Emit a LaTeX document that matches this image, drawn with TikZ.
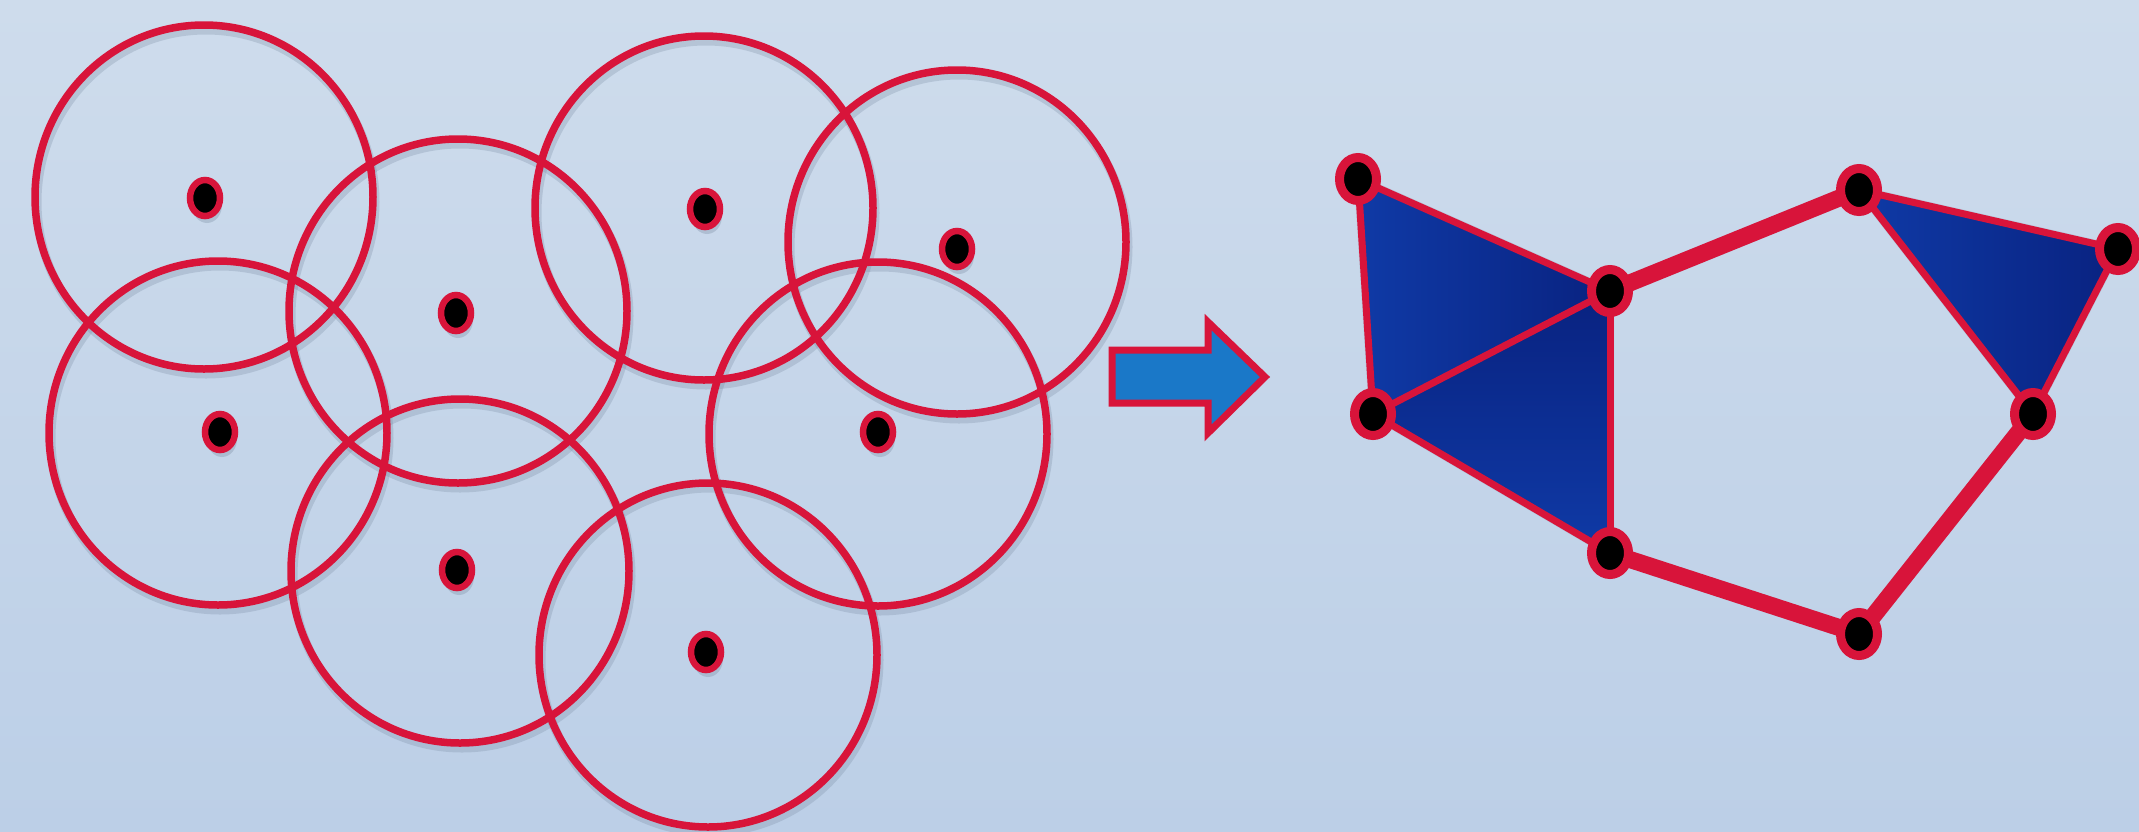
\documentclass[tikz,border=0pt]{standalone}
\usetikzlibrary{shapes.geometric}
\definecolor{bgtop}{HTML}{CEDCEC}
\definecolor{bgbot}{HTML}{BCCFE7}
\definecolor{rd}{HTML}{D8143A}
\definecolor{arrowblue}{HTML}{1A78C8}
\definecolor{navylight}{HTML}{0F3AA6}
\definecolor{navydark}{HTML}{092280}
\definecolor{shd}{HTML}{7E8FA6}
\tikzset{
  ring/.style={draw=rd, line width=7.5pt},
  ringshadow/.style={draw=shd, line width=9pt, opacity=0.3},
  dot/.style={ellipse, fill=black, draw=rd, line width=6.5pt, minimum width=30pt, minimum height=36pt, inner sep=0pt},
  gnode/.style={ellipse, fill=black, draw=rd, line width=9pt, minimum width=37pt, minimum height=43pt, inner sep=0pt},
  thinedge/.style={draw=rd, line width=7pt, line cap=round, line join=round},
  thickedge/.style={draw=rd, line width=17pt, line cap=round},
  bigarrow/.style={fill=arrowblue, draw=rd, line width=7pt, line join=miter}
}
\begin{document}
\begin{tikzpicture}[x=1pt, y=-1pt]
\useasboundingbox (0,0) rectangle (2139,831);
\shade[top color=bgtop, bottom color=bgbot] (0,0) rectangle (2139,831);

% ---- left: sensing circles ----
\foreach \cx/\cy in {204/197, 458/311, 704/208, 957/242, 218/433, 878/434, 460/571, 708/655}{
  \draw[ringshadow] (\cx+2,\cy+5) ellipse [x radius=169pt, y radius=172pt];
}
\foreach \cx/\cy in {204/197, 458/311, 704/208, 957/242, 218/433, 878/434, 460/571, 708/655}{
  \draw[ring] (\cx,\cy) ellipse [x radius=169pt, y radius=172pt];
}
\foreach \n/\x/\y in {1/205/198, 2/456/313, 3/705/209, 4/957/249, 5/220/432, 6/878/432, 7/457/570, 8/706/652}{
  \fill[shd, opacity=0.35] (\x+2,\y+7) ellipse [x radius=15pt, y radius=18pt];
  \node[dot] (d\n) at (\x,\y) {};
}

% ---- arrow ----
\draw[bigarrow] (1112,350) -- (1208,350) -- (1208,322) -- (1265,377) -- (1208,433) -- (1208,403) -- (1112,403) -- cycle;

% ---- right: graph ----
\coordinate (A) at (1358,179);
\coordinate (B) at (1610,291);
\coordinate (C) at (1373,414);
\coordinate (D) at (1610,553);
\coordinate (E) at (1859,190);
\coordinate (F) at (2118,249);
\coordinate (G) at (2033,414);
\coordinate (H) at (1859,634);

% shadow
\begin{scope}[shift={(4,7)}, opacity=0.25]
  \fill[shd] (A) -- (B) -- (D) -- (C) -- cycle;
  \fill[shd] (E) -- (F) -- (G) -- cycle;
  \draw[shd, line width=17pt, line cap=round] (B) -- (E) (D) -- (H) -- (G);
  \draw[shd, line width=8pt] (A) -- (B) -- (D) -- (C) -- cycle (E) -- (F) -- (G) -- cycle;
\end{scope}

\shade[left color=navylight, right color=navydark] (A) -- (B) -- (C) -- cycle;
\shade[top color=navydark, bottom color=navylight] (C) -- (B) -- (D) -- cycle;
\shade[left color=navylight, right color=navydark] (E) -- (F) -- (G) -- cycle;

\draw[thinedge] (A) -- (B);
\draw[thinedge] (A) -- (C);
\draw[thinedge] (B) -- (C);
\draw[thinedge] (C) -- (D);
\draw[thinedge] (B) -- (D);
\draw[thinedge] (E) -- (F);
\draw[thinedge] (E) -- (G);
\draw[thinedge] (F) -- (G);
\draw[thickedge] (B) -- (E);
\draw[thickedge] (D) -- (H);
\draw[thickedge] (H) -- (G);

\foreach \p in {A,B,C,D,E,F,G,H}{
  \node[gnode] (n\p) at (\p) {};
}
\end{tikzpicture}
\end{document}
